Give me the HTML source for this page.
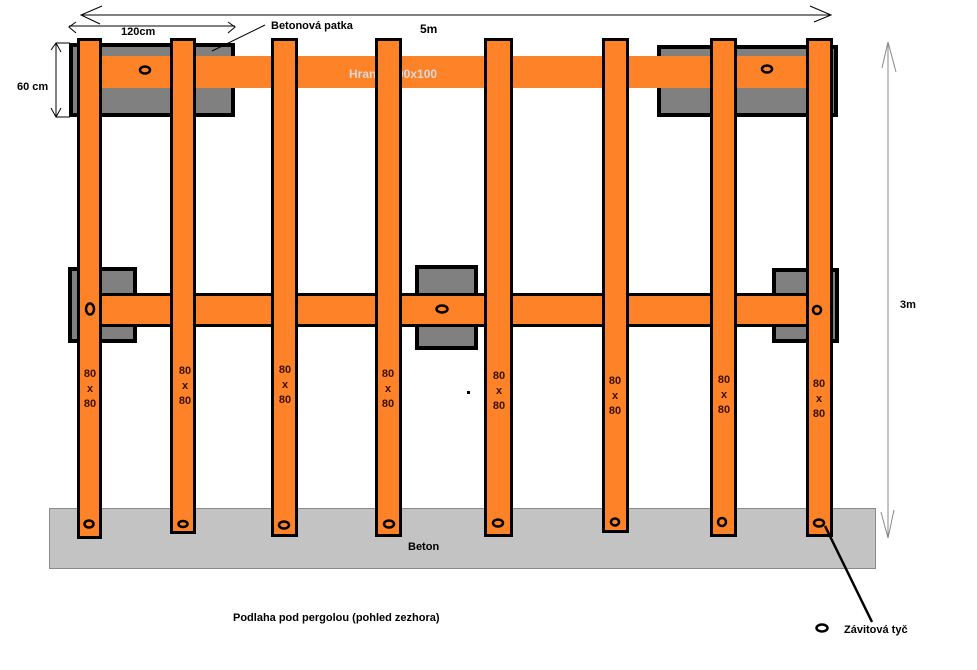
<!DOCTYPE html>
<html><head><meta charset="utf-8"><style>
html,body{margin:0;padding:0;background:#fff;}
svg{display:block;}
text{font-family:"Liberation Sans",sans-serif;font-weight:bold;}
</style></head><body>
<svg width="977" height="670" viewBox="0 0 977 670" xmlns="http://www.w3.org/2000/svg">
<!-- concrete slab -->
<rect x="49.5" y="508.5" width="826" height="60" fill="#c3c3c3" stroke="#8a8a8a" stroke-width="1"/>
<text x="408" y="550" font-size="11" fill="#000">Beton</text>

<!-- top footings -->
<rect x="71" y="45" width="162" height="70" fill="#808080" stroke="#000" stroke-width="4"/>
<rect x="659" y="47" width="177" height="68" fill="#808080" stroke="#000" stroke-width="4"/>
<!-- top beam -->
<rect x="77" y="56" width="730" height="32" fill="#fd8228"/>
<text x="349" y="78" font-size="12" fill="#d9d9d9">Hranol 100x100</text>

<!-- middle footings -->
<rect x="70" y="269" width="65" height="72" fill="#808080" stroke="#000" stroke-width="4"/>
<rect x="417" y="267" width="59" height="81" fill="#808080" stroke="#000" stroke-width="4"/>
<rect x="774" y="270" width="63" height="71" fill="#808080" stroke="#000" stroke-width="4"/>
<!-- middle beam -->
<rect x="100" y="294.5" width="708" height="31" fill="#fd8228" stroke="#000" stroke-width="3"/>

<!-- posts -->
<g fill="#fd8228" stroke="#000" stroke-width="3">
<rect x="78.5" y="39.5" width="22" height="498"/>
<rect x="171.5" y="39.5" width="23" height="493"/>
<rect x="272.5" y="39.5" width="24" height="496"/>
<rect x="376.5" y="39.5" width="24" height="496"/>
<rect x="485.5" y="39.5" width="26" height="496"/>
<rect x="603.5" y="39.5" width="24" height="492"/>
<rect x="711.5" y="39.5" width="24" height="496"/>
<rect x="807.5" y="39.5" width="24" height="496"/>
</g>
<!-- redraw middle beam segment over posts? (beam is under posts in ref) -->

<!-- holes -->
<g fill="none" stroke="#000" stroke-width="2.5">
<ellipse cx="145" cy="70" rx="5" ry="3.5"/>
<ellipse cx="767" cy="69" rx="5" ry="3.5"/>
<ellipse cx="90" cy="309" rx="4" ry="5.5"/>
<ellipse cx="442" cy="309" rx="5.5" ry="3.5"/>
<circle cx="817" cy="310" r="4"/>
<ellipse cx="89" cy="524" rx="4.5" ry="3.5"/>
<ellipse cx="183" cy="524" rx="4.5" ry="3"/>
<ellipse cx="284" cy="525" rx="5" ry="3.5"/>
<ellipse cx="389" cy="524" rx="5" ry="3.5"/>
<ellipse cx="498" cy="523" rx="5" ry="3.5"/>
<ellipse cx="615" cy="522" rx="4" ry="3.5"/>
<ellipse cx="722" cy="522" rx="4" ry="4"/>
<ellipse cx="819" cy="523" rx="5" ry="3.5"/>
<ellipse cx="822" cy="628" rx="5.5" ry="3.5"/>
</g>

<!-- 80x80 labels -->
<g font-size="11" fill="#3a1000" text-anchor="middle">
<text x="90" y="377">80</text><text x="90" y="392">x</text><text x="90" y="407">80</text>
<text x="185" y="374">80</text><text x="185" y="389">x</text><text x="185" y="404">80</text>
<text x="285" y="373">80</text><text x="285" y="388">x</text><text x="285" y="403">80</text>
<text x="388" y="377">80</text><text x="388" y="392">x</text><text x="388" y="407">80</text>
<text x="499" y="379">80</text><text x="499" y="394">x</text><text x="499" y="409">80</text>
<text x="615" y="384">80</text><text x="615" y="399">x</text><text x="615" y="414">80</text>
<text x="724" y="383">80</text><text x="724" y="398">x</text><text x="724" y="413">80</text>
<text x="819" y="387">80</text><text x="819" y="402">x</text><text x="819" y="417">80</text>
</g>
<rect x="467" y="391" width="3" height="3" fill="#000"/>

<!-- dimension lines -->
<g stroke="#000" stroke-width="1" fill="none">
<line x1="81" y1="15" x2="831" y2="15"/>
<polyline points="102,6 81,15 100,24"/>
<polyline points="810,6 831,15 814,22"/>
<line x1="69" y1="26" x2="235" y2="26"/>
<polyline points="76,22 69,27 76,33"/>
<polyline points="228,22 235,27 228,33"/>
<line x1="56" y1="43" x2="56" y2="117"/>
<polyline points="51,50 56,43 61,52"/>
<polyline points="51,108 56,117 61,108"/>
<line x1="56" y1="43" x2="70" y2="43"/>
<line x1="56" y1="117" x2="70" y2="117"/>
<line x1="265" y1="25" x2="212" y2="51"/>
</g>
<g stroke="#8a8a8a" stroke-width="1" fill="none">
<line x1="888" y1="42" x2="888" y2="538"/>
<polyline points="882,68 888,42 896,72"/>
<polyline points="881,512 888,538 894,510"/>
</g>
<line x1="825" y1="526" x2="872" y2="622" stroke="#000" stroke-width="2.5"/>

<!-- texts -->
<g font-size="11" fill="#000">
<text x="121" y="35">120cm</text>
<text x="271" y="29">Betonová patka</text>
<text x="420" y="33" font-size="12">5m</text>
<text x="17" y="90">60 cm</text>
<text x="900" y="308">3m</text>
<text x="233" y="621">Podlaha pod pergolou (pohled zezhora)</text>
<text x="844" y="633">Závitová tyč</text>
</g>
</svg>
</body></html>
